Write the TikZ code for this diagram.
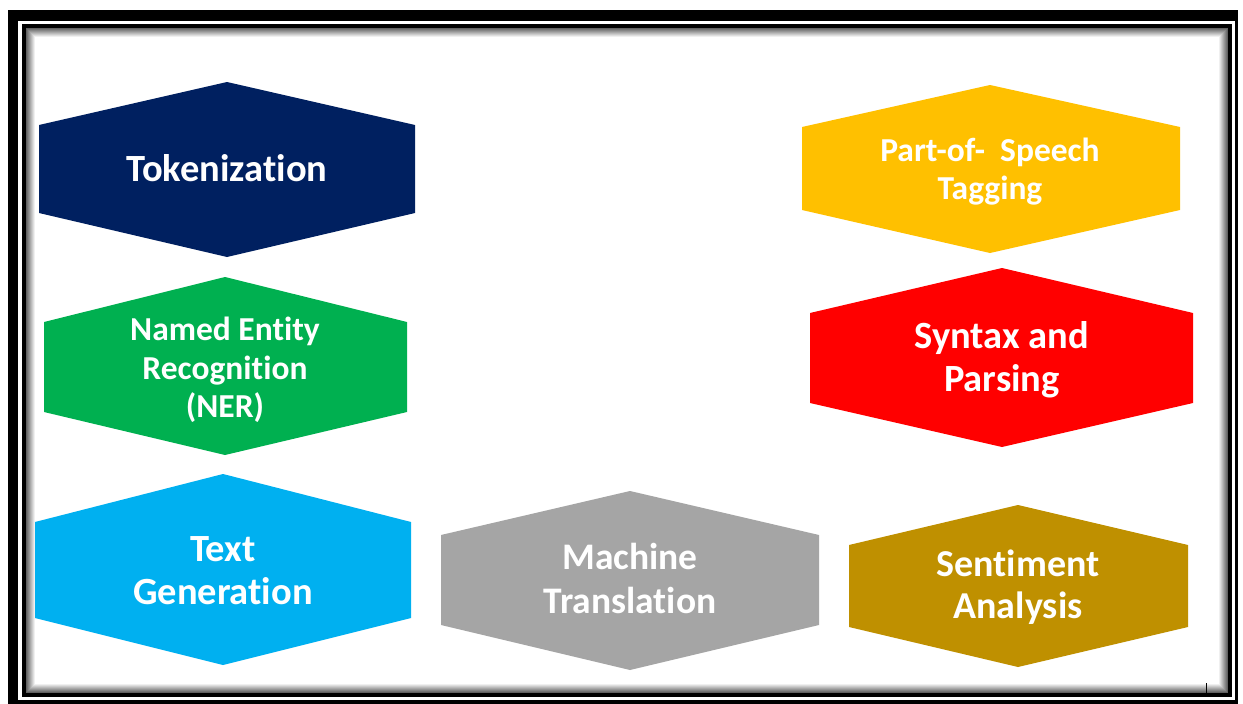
\documentclass[tikz,border=0pt]{standalone}
\usepackage{fontspec}
\setmainfont[Ligatures={NoCommon}]{Carlito}
\definecolor{navyhex}{HTML}{002060}
\definecolor{goldhex}{HTML}{FFC000}
\definecolor{greenhex}{HTML}{00B050}
\definecolor{redhex}{HTML}{FF0000}
\definecolor{skyhex}{HTML}{00B0F0}
\definecolor{grayhex}{HTML}{A5A5A5}
\definecolor{ochrehex}{HTML}{BF9000}
\tikzset{
  label text/.style={text=white, align=center, inner sep=0pt, font=\bfseries},
}
\begin{document}
\begin{tikzpicture}[x=1pt,y=-1pt]
\useasboundingbox (0,0) rectangle (1243,704);
\fill[white] (0,0) rectangle (1243,704);

% double frame
\fill[black] (8,10) rectangle (1238,704);
\fill[white] (18,21) rectangle (1235,700);
\fill[black] (22,24) rectangle (1232,697);
\fill[white] (26,28) rectangle (1228,693);
% inner shadow along the frame
\foreach \i in {0,...,8}{
  \pgfmathsetmacro{\shade}{62-7*\i}
  \draw[black!\shade, line width=1pt] (26.5+\i,28.5+\i) rectangle (1227.5-\i,692.5-\i);
}
\draw[black, line width=1pt] (1206,683) -- (1206,693);

% Tokenization
\fill[navyhex] (39,125) -- (227,82) -- (415,125) -- (415,213) -- (227,257) -- (39,213) -- cycle;
\node[label text, font=\bfseries\fontsize{38.5}{44}\selectfont] (tok) at (227,168) {Tokenization};

% Part-of-speech tagging
\fill[goldhex] (802,127) -- (990,85) -- (1180,127) -- (1180,210) -- (990,253) -- (802,210) -- cycle;
\node[label text, font=\bfseries\fontsize{33.5}{38}\selectfont] (pos) at (990,171.5) {Part-of-\ \ Speech\\Tagging};

% Named entity recognition
\fill[greenhex] (44,322) -- (225,277) -- (407,322) -- (407,412) -- (225,455) -- (44,412) -- cycle;
\node[label text, font=\bfseries\fontsize{33.5}{38.5}\selectfont] (ner) at (225,370) {Named Entity\\Recognition\\(NER)};

% Syntax and parsing
\fill[redhex] (810,313) -- (1002,268) -- (1193,313) -- (1193,403) -- (1002,447) -- (810,403) -- cycle;
\node[label text, font=\bfseries\fontsize{38.5}{43}\selectfont] (syn) at (1002,360) {Syntax and\\Parsing};

% Text generation
\fill[skyhex] (35,522) -- (223,474) -- (411,522) -- (411,618) -- (223,665) -- (35,618) -- cycle;
\node[label text, font=\bfseries\fontsize{38.5}{43}\selectfont] (gen) at (223,570.5) {Text\\Generation};

% Machine translation
\fill[grayhex] (441,535) -- (630,491) -- (819,535) -- (819,625) -- (630,670) -- (441,625) -- cycle;
\node[label text, font=\bfseries\fontsize{37.5}{43.5}\selectfont] (mt) at (630,578.5) {Machine\\Translation};

% Sentiment analysis
\fill[ochrehex] (849,545) -- (1018,505) -- (1188,545) -- (1188,627) -- (1018,667) -- (849,627) -- cycle;
\node[label text, font=\bfseries\fontsize{38}{42}\selectfont] (sa) at (1018,587) {Sentiment\\Analysis};
\end{tikzpicture}
\end{document}
